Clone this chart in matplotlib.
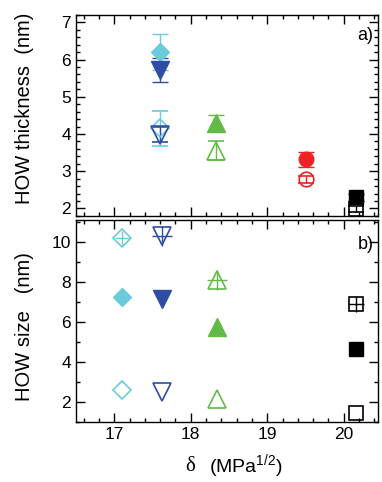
import matplotlib
matplotlib.use('Agg')
import matplotlib.pyplot as plt
from matplotlib.ticker import MultipleLocator

plt.rcParams['font.family'] = ['Liberation Sans', 'DejaVu Sans']
plt.rcParams['mathtext.default'] = 'regular'

cyan = '#6ccbdb'
blue = '#2f4ea3'
green = '#63bb47'
red = '#ee2125'

# panel a: HOW thickness, filled and open symbols
delta_top = [17.6, 17.6, 18.33, 19.5, 20.16]
thick_filled = [6.2, 5.72, 4.3, 3.32, 2.3]
thick_filled_err = [0.49, 0.32, 0.2, 0.2, 0.1]
thick_open = [4.15, 3.98, 3.55, 2.78, 1.98]
thick_open_err = [0.48, 0.2, 0.26, 0.1, 0.08]

# panel b: HOW size
delta_bot = [17.1, 17.63, 18.34, 20.16]
size_cross = [10.2, 10.3, 8.08, 6.87]
size_filled = [7.22, 7.15, 5.72, 4.67]
size_open = [2.58, 2.5, 2.13, 1.47]

markers = ['D', 'v', '^', 'o', 's']
colors = [cyan, blue, green, red, 'k']
msizes = {'D': 9.4, 'v': 13, '^': 13, 'o': 10.5, 's': 10}

fig = plt.figure(figsize=(3.82, 4.82), dpi=100)
ax1 = fig.add_axes([0.199, 0.552, 0.791, 0.417])
ax2 = fig.add_axes([0.199, 0.1245, 0.791, 0.4195])

for i in range(5):
    m, c = markers[i], colors[i]
    ax1.errorbar(delta_top[i], thick_open[i], yerr=thick_open_err[i], fmt=m, ms=msizes[m],
                 mfc='none', mec=c, mew=1.2, ecolor=c, elinewidth=1, capsize=5.5, capthick=1)
    ax1.errorbar(delta_top[i], thick_filled[i], yerr=thick_filled_err[i], fmt=m, ms=msizes[m],
                 mfc=c, mec=c, ecolor=c, elinewidth=1, capsize=5.5, capthick=1)

for j, i in enumerate([0, 1, 2, 4]):
    m, c = markers[i], colors[i]
    ax2.plot(delta_bot[j], size_cross[j], m, ms=msizes[m], mfc='none', mec=c, mew=1.2)
    ax2.plot(delta_bot[j], size_cross[j], '+', ms=msizes[m] * 1.1, mec=c, mew=1)
    ax2.plot(delta_bot[j], size_filled[j], m, ms=msizes[m], mfc=c, mec=c)
    ax2.plot(delta_bot[j], size_open[j], m, ms=msizes[m], mfc='none', mec=c, mew=1.2)

for ax in (ax1, ax2):
    ax.set_xlim(16.5, 20.45)
    ax.xaxis.set_major_locator(MultipleLocator(1))
    ax.xaxis.set_minor_locator(MultipleLocator(0.2))
    ax.tick_params(which='both', direction='in', top=True, right=True, labelsize=12.5, width=1)
    ax.tick_params(which='major', length=6.5)
    ax.tick_params(which='minor', length=3)
    for s in ax.spines.values():
        s.set_linewidth(1)

ax1.set_ylim(1.8, 7.2)
ax1.yaxis.set_major_locator(MultipleLocator(1))
ax1.yaxis.set_minor_locator(MultipleLocator(0.2))
ax1.tick_params(labelbottom=False)
ax1.text(0.985, 0.9, 'a)', transform=ax1.transAxes, ha='right', va='center', fontsize=13)

ax2.set_ylim(1, 11.1)
ax2.yaxis.set_major_locator(MultipleLocator(2))
ax2.yaxis.set_minor_locator(MultipleLocator(1))
ax2.text(0.985, 0.88, 'b)', transform=ax2.transAxes, ha='right', va='center', fontsize=13)

fig.text(0.065, 0.775, 'HOW thickness  (nm)', rotation=90, ha='center', va='center', fontsize=14.5)
fig.text(0.065, 0.3226, 'HOW size   (nm)', rotation=90, ha='center', va='center', fontsize=14.5)
fig.text(0.497, 0.032, 'δ', family=['Liberation Serif', 'DejaVu Serif'], ha='center', va='center', fontsize=15)
fig.text(0.644, 0.034, '(MPa$^{1/2}$)', ha='center', va='center', fontsize=14)

fig.savefig('out.png', dpi=100)
